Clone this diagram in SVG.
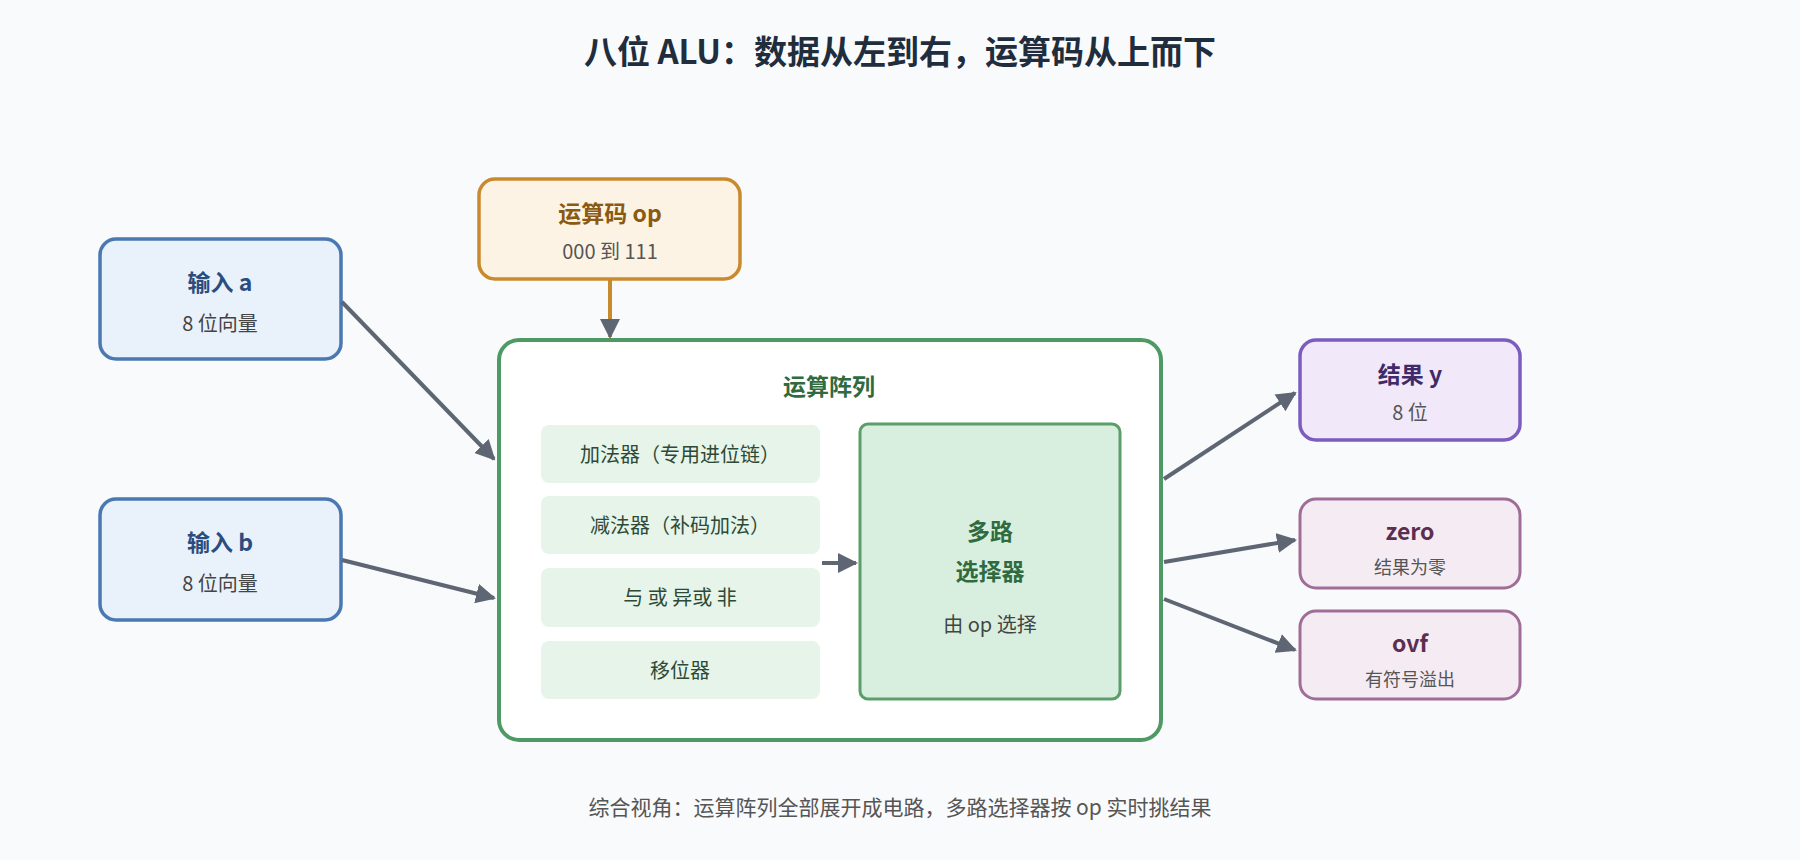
<svg xmlns="http://www.w3.org/2000/svg" width="1800" height="860" viewBox="0 0 1800 860">
<defs>
<marker id="ah" viewBox="0 0 10 10" refX="9" refY="5" markerWidth="5" markerHeight="5" orient="auto"><path d="M0,0 L10,5 L0,10 z" fill="#5f6673"/></marker>
<marker id="ao" viewBox="0 0 10 10" refX="9" refY="5" markerWidth="5" markerHeight="5" orient="auto"><path d="M0,0 L10,5 L0,10 z" fill="#5f6673"/></marker>
<style>
text{font-family:"Noto Sans CJK SC","Noto Sans",sans-serif;text-anchor:middle}
.t{font-weight:bold;font-size:23px}
.s{font-size:20px}
.in rect{fill:#e9f1fb;stroke:#4a78b0;stroke-width:3.5}
.in .t{fill:#2b4c7e}.in .s{fill:#444}
.sub{fill:#e6f4ea}
.out rect{fill:#f5ecf3;stroke:#a06c98;stroke-width:3}
.out .t{fill:#5a2f50}.out .s{fill:#555;font-size:18px}
.c{stroke:#5f6673;stroke-width:4;fill:none;marker-end:url(#ah)}
</style>
</defs>
<rect width="1800" height="860" fill="#f8fafc"/>
<text x="900" y="64" style="font-weight:bold;font-size:33px;fill:#1f2d3d">八位 ALU：数据从左到右，运算码从上而下</text>
<g id="inA" class="in"><rect x="100" y="239" width="241" height="120" rx="16"/><text class="t" x="220" y="291">输入 a</text><text class="s" x="220" y="331">8 位向量</text></g>
<g id="inB" class="in"><rect x="100" y="499" width="241" height="121" rx="16"/><text class="t" x="220" y="551">输入 b</text><text class="s" x="220" y="591">8 位向量</text></g>
<g id="op"><rect x="479" y="179" width="261" height="100" rx="16" fill="#fdf3e4" stroke="#c98a2e" stroke-width="3.5"/><text class="t" x="610" y="222" fill="#8a5a12">运算码 op</text><text class="s" x="610" y="259" fill="#555">000 到 111</text></g>
<g id="array"><rect x="499" y="340" width="662" height="400" rx="20" fill="#ffffff" stroke="#4e9a64" stroke-width="4"/><text class="t" x="829" y="395" fill="#2f6b3f">运算阵列</text>
<rect class="sub" x="541" y="425" width="279" height="58" rx="8"/><text class="s" x="680" y="462" fill="#2d4a36">加法器（专用进位链）</text>
<rect class="sub" x="541" y="496" width="279" height="58" rx="8"/><text class="s" x="680" y="533" fill="#2d4a36">减法器（补码加法）</text>
<rect class="sub" x="541" y="568" width="279" height="59" rx="8"/><text class="s" x="680" y="605" fill="#2d4a36">与 或 异或 非</text>
<rect class="sub" x="541" y="641" width="279" height="58" rx="8"/><text class="s" x="680" y="678" fill="#2d4a36">移位器</text></g>
<g id="mux"><rect x="860" y="424" width="260" height="275" rx="8" fill="#d8efdf" stroke="#5a9e6a" stroke-width="3"/><text class="t" x="990" y="540" fill="#2f6b3f">多路</text><text class="t" x="990" y="580" fill="#2f6b3f">选择器</text><text class="s" x="990" y="632" fill="#444">由 op 选择</text></g>
<g id="resY"><rect x="1300" y="340" width="220" height="100" rx="16" fill="#f1e9f9" stroke="#7b5cbf" stroke-width="3.5"/><text class="t" x="1410" y="383" fill="#3f2a6b">结果 y</text><text class="s" x="1410" y="420" fill="#555">8 位</text></g>
<g id="zero" class="out"><rect x="1300" y="499" width="220" height="89" rx="16"/><text class="t" x="1410" y="540">zero</text><text class="s" x="1410" y="574">结果为零</text></g>
<g id="ovf" class="out"><rect x="1300" y="611" width="220" height="88" rx="16"/><text class="t" x="1410" y="652">ovf</text><text class="s" x="1410" y="686">有符号溢出</text></g>
<g id="connectors">
<line class="c" x1="610" y1="279" x2="610" y2="337" style="stroke:#c98a2e"/>
<line class="c" x1="342" y1="302" x2="494" y2="459"/>
<line class="c" x1="342" y1="560" x2="494" y2="598"/>
<line class="c" x1="822" y1="563" x2="856" y2="563"/>
<line class="c" x1="1164" y1="479" x2="1295" y2="393"/>
<line class="c" x1="1164" y1="562" x2="1295" y2="540"/>
<line class="c" x1="1164" y1="599" x2="1295" y2="650"/>
</g>
<text x="900" y="815" style="font-size:21px;fill:#555">综合视角：运算阵列全部展开成电路，多路选择器按 op 实时挑结果</text>
</svg>
